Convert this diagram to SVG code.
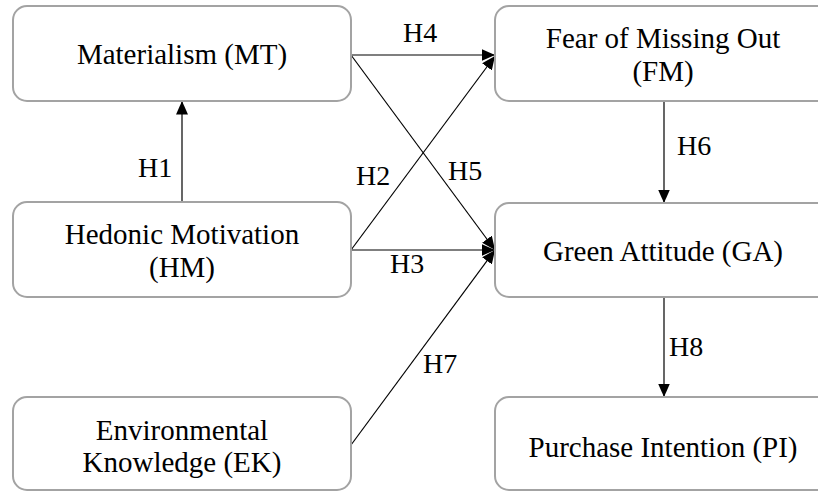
<svg xmlns="http://www.w3.org/2000/svg" width="818" height="491" viewBox="0 0 818 491">
<style>
.box{fill:#fff;stroke:#a3a3a3;stroke-width:2}
.t{font-family:"Liberation Serif",serif;font-size:29px;fill:#000;text-anchor:middle}
.l{font-family:"Liberation Serif",serif;font-size:28px;fill:#000}
.c{stroke:#000;stroke-width:1.2;fill:none;marker-end:url(#ah)}
</style>
<defs>
<marker id="ah" markerUnits="userSpaceOnUse" markerWidth="14" markerHeight="12" viewBox="0 0 14 12" refX="13.5" refY="6" orient="auto">
<path d="M0,0 L13.5,6 L0,12 Z" fill="#000"/>
</marker>
</defs>
<rect width="818" height="491" fill="#fff"/>
<g id="connectors">
<line class="c" x1="182" y1="202" x2="182" y2="101"/>
<line class="c" x1="351" y1="55" x2="495" y2="55"/>
<line class="c" x1="351" y1="55" x2="495" y2="250"/>
<line class="c" x1="351" y1="250" x2="495" y2="56"/>
<line class="c" x1="351" y1="250" x2="495" y2="250"/>
<line class="c" x1="351" y1="445" x2="495" y2="250"/>
<line class="c" x1="664" y1="101" x2="664" y2="203"/>
<line class="c" x1="664" y1="297" x2="664" y2="397"/>
<text class="l" x="138" y="177">H1</text>
<text class="l" x="356" y="185">H2</text>
<text class="l" x="390" y="273">H3</text>
<text class="l" x="403" y="42">H4</text>
<text class="l" x="448" y="180">H5</text>
<text class="l" x="677" y="155">H6</text>
<text class="l" x="423" y="373">H7</text>
<text class="l" x="669" y="356">H8</text>
</g>
<g id="MT">
<rect class="box" x="13" y="6" width="338" height="95" rx="14"/>
<text class="t" x="182" y="64">Materialism (MT)</text>
</g>
<g id="FM">
<rect class="box" x="495" y="6" width="340" height="95" rx="14"/>
<text class="t" x="663" y="48">Fear of Missing Out</text>
<text class="t" x="663" y="81">(FM)</text>
</g>
<g id="HM">
<rect class="box" x="13" y="202" width="338" height="95" rx="14"/>
<text class="t" x="182" y="244">Hedonic Motivation</text>
<text class="t" x="182" y="277">(HM)</text>
</g>
<g id="GA">
<rect class="box" x="495" y="203" width="340" height="94" rx="14"/>
<text class="t" x="663" y="261">Green Attitude (GA)</text>
</g>
<g id="EK">
<rect class="box" x="13" y="397" width="338" height="93" rx="14"/>
<text class="t" x="182" y="440">Environmental</text>
<text class="t" x="182" y="472">Knowledge (EK)</text>
</g>
<g id="PI">
<rect class="box" x="495" y="397" width="340" height="93" rx="14"/>
<text class="t" x="663" y="457">Purchase Intention (PI)</text>
</g>
</svg>
